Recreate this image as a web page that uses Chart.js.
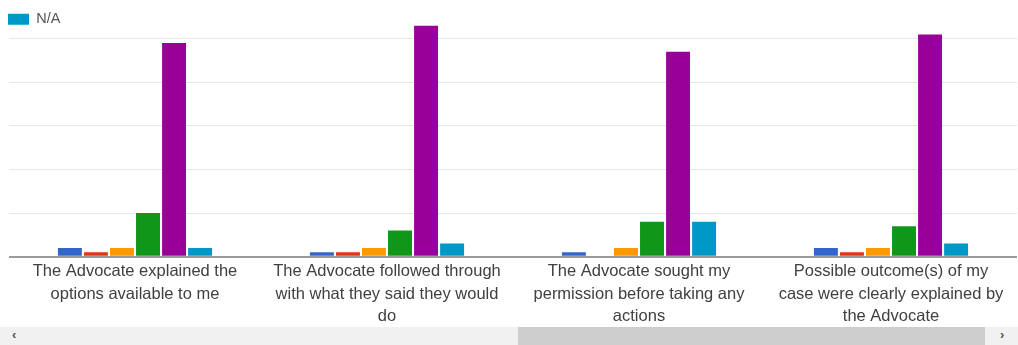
<!DOCTYPE html>
<html>
<head>
<meta charset="utf-8">
<script src="https://cdn.jsdelivr.net/npm/chart.js@4/dist/chart.umd.min.js"></script>
<style>
  html, body { margin: 0; padding: 0; background: #fff; overflow: hidden; }
  #wrap { position: relative; width: 1018px; height: 345px; }
  #box { position: absolute; left: 0; top: 0; width: 1018px; height: 334px; }
  #scroll { position: absolute; left: 0; top: 327px; width: 1018px; height: 18px; background: #f1f1f1; }
  #thumb { position: absolute; left: 518px; top: 0; width: 467px; height: 18px; background: #cdcdcd; }
  .arrow { position: absolute; top: 0; height: 18px; line-height: 18px; font: bold 13px "Liberation Sans", Arial, sans-serif; color: #505050; }
</style>
</head>
<body>
<div id="wrap">
  <div id="box"><canvas id="c"></canvas></div>
  <div id="scroll">
    <div id="thumb"></div>
    <span class="arrow" style="left:12px">&lsaquo;</span>
    <span class="arrow" style="left:1000px">&rsaquo;</span>
  </div>
</div>
<script>
// Survey statements (wrapped onto lines as shown under each group)
const categories = [
  ["The Advocate explained the", "options available to me"],
  ["The Advocate followed through", "with what they said they would", "do"],
  ["The Advocate sought my", "permission before taking any", "actions"],
  ["Possible outcome(s) of my", "case were clearly explained by", "the Advocate"]
];

// Response counts per answer option
const stronglyDisagree = [2, 1, 1, 2];
const disagree         = [1, 1, 0, 1];
const neutral          = [2, 2, 2, 2];
const agree            = [10, 6, 8, 7];
const stronglyAgree    = [49, 53, 47, 51];
const notApplicable    = [2, 3, 8, 3];

// Gridline values on the count axis
const yTicks = [0, 10, 20, 30, 40, 50];

const seriesNames  = ["Strongly disagree", "Disagree", "Neither agree nor disagree", "Agree", "Strongly agree", "N/A"];
const seriesColors = ["#3366cc", "#dc3912", "#ff9900", "#109618", "#990099", "#0099c6"];
const seriesValues = [stronglyDisagree, disagree, neutral, agree, stronglyAgree, notApplicable];

const datasets = seriesNames.map((name, i) => ({
  label: name,
  data: seriesValues[i],
  backgroundColor: seriesColors[i],
  borderWidth: 0,
  categoryPercentage: 0.62,
  barPercentage: 0.92
}));

const FONT = '"Liberation Sans", Arial, sans-serif';

// Nudge the in-plot legend down a little from the plot's top-left corner
const legendOffset = {
  id: 'legendOffset',
  afterLayout(chart) {
    if (chart.legend) {
      chart.legend.top += 12;
      chart.legend.left -= 1;
    }
  }
};

new Chart(document.getElementById('c'), {
  type: 'bar',
  data: { labels: categories, datasets },
  plugins: [legendOffset],
  options: {
    responsive: true,
    maintainAspectRatio: false,
    animation: false,
    layout: { padding: { left: 9, right: 1, top: 10, bottom: 2 } },
    plugins: {
      tooltip: { enabled: false },
      legend: {
        position: 'chartArea',
        align: 'start',
        labels: {
          filter: item => item.text === 'N/A',
          boxWidth: 21,
          boxHeight: 11,
          padding: 0,
          color: '#555',
          font: { family: FONT, size: 14.5 }
        }
      }
    },
    scales: {
      x: {
        grid: { display: false, drawTicks: false },
        border: { display: false },
        ticks: {
          maxRotation: 0,
          autoSkip: false,
          padding: 4,
          color: '#404040',
          font: { family: FONT, size: 16.5, lineHeight: 1.36 }
        }
      },
      y: {
        min: 0,
        max: 56.6,
        border: { display: false },
        afterBuildTicks: scale => { scale.ticks = yTicks.map(v => ({ value: v })); },
        ticks: { display: false },
        grid: {
          drawTicks: false,
          color: ctx => ctx.tick.value === 0 ? '#9a9a9a' : '#e6e6e6',
          lineWidth: ctx => ctx.tick.value === 0 ? 2 : 1
        }
      }
    }
  }
});
</script>
</body>
</html>
